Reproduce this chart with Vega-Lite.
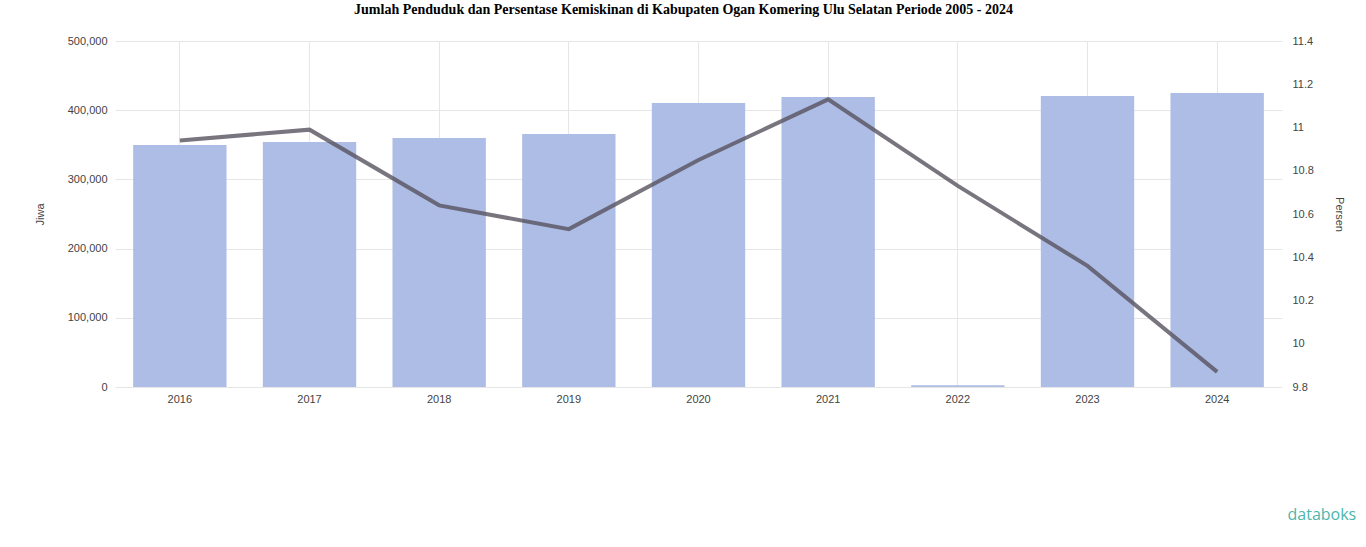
{
  "$schema": "https://vega.github.io/schema/vega-lite/v6.json",
  "autosize": {"type": "none"},
  "width": 1167,
  "height": 346,
  "padding": {"left": 115, "top": 41, "right": 84, "bottom": 160},
  "background": "white",
  "title": {
    "text": "Jumlah Penduduk dan Persentase Kemiskinan di Kabupaten Ogan Komering Ulu Selatan Periode 2005 - 2024",
    "font": "Liberation Serif",
    "fontSize": 14,
    "fontWeight": "bold",
    "color": "#000000",
    "anchor": "middle",
    "dx": -15,
    "offset": 18
  },
  "data": {
    "values": [
      {"tahun": "2016", "penduduk": 349700, "persen": 10.94},
      {"tahun": "2017", "penduduk": 354000, "persen": 10.99},
      {"tahun": "2018", "penduduk": 359800, "persen": 10.64},
      {"tahun": "2019", "penduduk": 365600, "persen": 10.53},
      {"tahun": "2020", "penduduk": 410400, "persen": 10.85},
      {"tahun": "2021", "penduduk": 419100, "persen": 11.13},
      {"tahun": "2022", "penduduk": 2500, "persen": 10.73},
      {"tahun": "2023", "penduduk": 420500, "persen": 10.36},
      {"tahun": "2024", "penduduk": 424900, "persen": 9.87}
    ]
  },
  "encoding": {
    "x": {
      "field": "tahun",
      "type": "ordinal",
      "scale": {"paddingInner": 0.28, "paddingOuter": 0.14},
      "axis": {
        "title": "databoks",
        "titleAnchor": "start",
        "titleAlign": "left",
        "titleX": 1172,
        "titleColor": "#4db6ac",
        "titleFont": "Open Sans",
        "titleFontSize": 16,
        "titleFontWeight": "normal",
        "titlePadding": 102,
        "labelAngle": 0,
        "labelColor": "#444444",
        "labelFontSize": 11,
        "labelPadding": 6,
        "domain": false,
        "ticks": false,
        "grid": true,
        "gridColor": "#e6e6e6",
        "bandPosition": 0.5
      }
    }
  },
  "layer": [
    {
      "mark": {"type": "bar", "color": "#aebde6"},
      "encoding": {
        "y": {
          "field": "penduduk",
          "type": "quantitative",
          "scale": {"domain": [0, 500000]},
          "axis": {
            "title": "Jiwa",
            "titleColor": "#444444",
            "titleFontSize": 11,
            "titleFontWeight": "normal",
            "titlePadding": 22,
            "values": [0, 100000, 200000, 300000, 400000, 500000],
            "format": ",d",
            "labelColor": "#444444",
            "labelFontSize": 11,
            "labelPadding": 8,
            "domain": false,
            "ticks": false,
            "grid": true,
            "gridColor": "#e6e6e6"
          }
        }
      }
    },
    {
      "mark": {"type": "line", "color": "#58525f", "strokeWidth": 4, "opacity": 0.8},
      "encoding": {
        "y": {
          "field": "persen",
          "type": "quantitative",
          "scale": {"domain": [9.8, 11.4], "zero": false},
          "axis": {
            "orient": "right",
            "title": "Persen",
            "titleColor": "#444444",
            "titleFontSize": 11,
            "titleFontWeight": "normal",
            "titlePadding": 20,
            "values": [9.8, 10, 10.2, 10.4, 10.6, 10.8, 11, 11.2, 11.4],
            "format": "~r",
            "labelColor": "#444444",
            "labelFontSize": 11,
            "labelPadding": 10,
            "domain": false,
            "ticks": false,
            "grid": false
          }
        }
      }
    }
  ],
  "resolve": {"scale": {"y": "independent"}},
  "config": {
    "view": {"stroke": null},
    "font": "Liberation Sans"
  }
}
